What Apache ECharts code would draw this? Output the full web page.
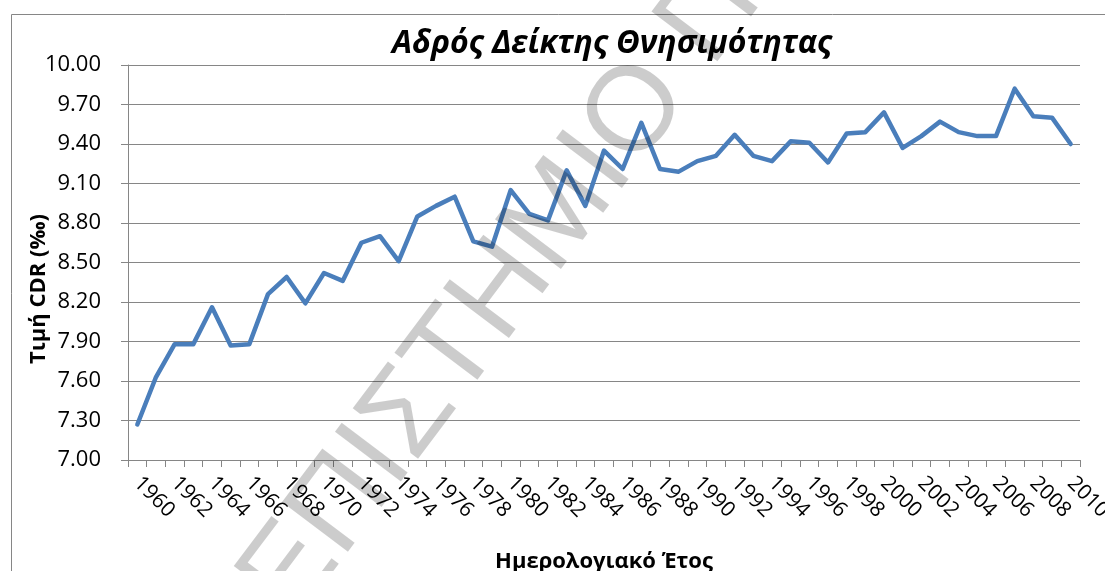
<!DOCTYPE html>
<html>
<head>
<meta charset="utf-8">
<script src="https://cdn.jsdelivr.net/npm/echarts@6/dist/echarts.min.js"></script>
<style>
html,body{margin:0;padding:0;background:#fff;}
#chart{width:1105px;height:571px;}
</style>
</head>
<body>
<div id="chart"></div>
<script>
const titleText = 'Αδρός Δείκτης Θνησιμότητας';
const xAxisTitle = 'Ημερολογιακό Έτος';
const yAxisTitle = 'Τιμή CDR (‰)';
const watermarkText = 'ΠΑΝΕΠΙΣΤΗΜΙΟ ΠΕΙΡΑΙΩΣ';
const years = ['1960','1961','1962','1963','1964','1965','1966','1967','1968','1969',
  '1970','1971','1972','1973','1974','1975','1976','1977','1978','1979',
  '1980','1981','1982','1983','1984','1985','1986','1987','1988','1989',
  '1990','1991','1992','1993','1994','1995','1996','1997','1998','1999',
  '2000','2001','2002','2003','2004','2005','2006','2007','2008','2009','2010'];
const cdr = [7.27,7.63,7.88,7.88,8.16,7.87,7.88,8.26,8.39,8.19,
  8.42,8.36,8.65,8.70,8.51,8.85,8.93,9.00,8.66,8.62,
  9.05,8.87,8.82,9.20,8.93,9.35,9.21,9.56,9.21,9.19,
  9.27,9.31,9.47,9.31,9.27,9.42,9.41,9.26,9.48,9.49,
  9.64,9.37,9.46,9.57,9.49,9.46,9.46,9.82,9.61,9.60,9.40];
const yMin = 7.0, yMax = 10.0, yStep = 0.3;

const FONT = 'Open Sans';
const gridColor = '#868686';

// watermark placement: put the centre of the "Ο" of ΕΠΙΣΤΗΜΙΟ at a chosen point
const wmFontSize = 120;
const wmFont = wmFontSize + 'px "Liberation Sans"';
const ang = 53 * Math.PI / 180;
const mctx = document.createElement('canvas').getContext('2d');
mctx.font = wmFont;
const prefixW = mctx.measureText('ΠΑΝΕΠΙΣΤΗΜΙ').width;
const oW = mctx.measureText('Ο').width;
const along = prefixW + oW / 2;
const ux = Math.cos(ang), uy = -Math.sin(ang);
const oCx = 637, oCy = 113;
const wmX = oCx - along * ux, wmY = oCy - along * uy;

const chart = echarts.init(document.getElementById('chart'), null, {renderer:'canvas'});
chart.setOption({
  animation: false,
  backgroundColor: '#ffffff',
  title: {
    text: titleText,
    left: 607, top: 23, textAlign: 'center',
    textStyle: {fontFamily: FONT, fontSize: 32, fontWeight: 'bold', fontStyle: 'italic', color: '#000'}
  },
  grid: {left: 128, right: 25, top: 65, bottom: 111, containLabel: false, outerBoundsMode: 'none'},
  xAxis: {
    type: 'category',
    data: years,
    boundaryGap: true,
    name: xAxisTitle,
    nameLocation: 'middle',
    nameGap: 91,
    nameMoveOverlap: false,
    nameTextStyle: {fontFamily: FONT, fontSize: 22, fontWeight: 'bold', color: '#000'},
    axisLine: {show: true, lineStyle: {color: gridColor, width: 1}},
    axisTick: {show: true, interval: 0, length: 7, lineStyle: {color: gridColor}},
    axisLabel: {interval: 1, rotate: -45, margin: 20, fontFamily: FONT, fontSize: 21, color: '#000'},
    splitLine: {show: false}
  },
  yAxis: {
    type: 'value',
    min: yMin, max: yMax, interval: yStep,
    name: yAxisTitle,
    nameLocation: 'middle',
    nameGap: 78,
    nameRotate: 90,
    nameMoveOverlap: false,
    nameTextStyle: {fontFamily: FONT, fontSize: 22, fontWeight: 'bold', color: '#000', padding: [0, 53, 0, 0]},
    axisLine: {show: true, lineStyle: {color: gridColor, width: 1}},
    axisTick: {show: true, length: 7, lineStyle: {color: gridColor}},
    axisLabel: {margin: 27, fontFamily: FONT, fontSize: 22, color: '#000', formatter: v => v.toFixed(2)},
    splitLine: {show: true, lineStyle: {color: gridColor, width: 1}}
  },
  series: [{
    type: 'line',
    data: cdr,
    showSymbol: false,
    symbol: 'none',
    lineStyle: {color: '#4a7ebb', width: 4.5, join: 'round', cap: 'round'},
    itemStyle: {color: '#4a7ebb'}
  }],
  graphic: [
    {type: 'rect', silent: true, z: 0, shape: {x: 11.5, y: 14.5, width: 1200, height: 700},
      style: {fill: 'none', stroke: gridColor, lineWidth: 1}},
    {type: 'text', silent: true, z: 100, x: wmX, y: wmY, rotation: ang,
      style: {text: watermarkText, fontFamily: 'Liberation Sans', fontSize: wmFontSize,
        fill: 'rgba(0,0,0,0.2)', textAlign: 'left', textVerticalAlign: 'middle'}}
  ]
});
</script>
</body>
</html>
